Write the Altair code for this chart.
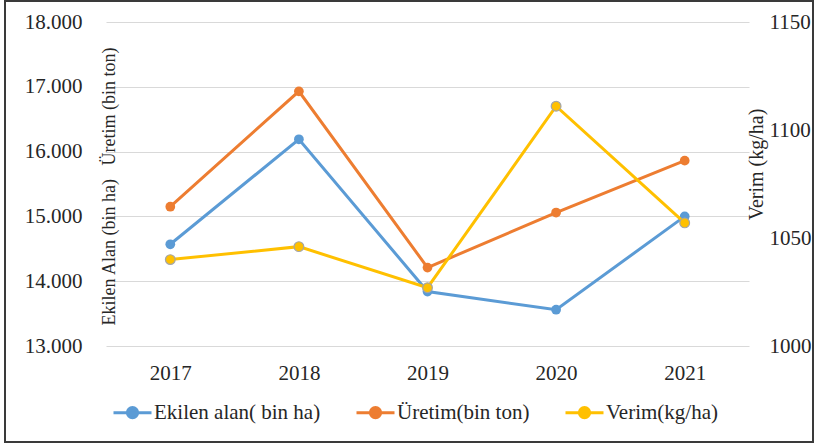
import altair as alt
import pandas as pd

# Yearly values
years = ["2017", "2018", "2019", "2020", "2021"]
ekilen_alan = [14570, 16190, 13840, 13560, 15000]   # bin ha
uretim = [15150, 16930, 14210, 15060, 15860]        # bin ton
verim = [1040, 1046, 1027, 1111, 1057]              # kg/ha

series_names = ["Ekilen alan( bin ha)", "Üretim(bin ton)", "Verim(kg/ha)"]
series_colors = ["#5B9BD5", "#ED7D31", "#FFC000"]

left_ticks = [13000, 14000, 15000, 16000, 17000, 18000]
right_ticks = [1000, 1050, 1100, 1150]

FONT = "'Liberation Serif', 'Times New Roman', 'DejaVu Serif', serif"
TEXT = "#262626"

left_df = pd.DataFrame({
    "Yıl": years * 2,
    "Seri": [series_names[0]] * len(years) + [series_names[1]] * len(years),
    "Değer": ekilen_alan + uretim,
})
right_df = pd.DataFrame({
    "Yıl": years,
    "Seri": [series_names[2]] * len(years),
    "Değer": verim,
})

color_scale = alt.Scale(domain=series_names, range=series_colors)

# line + marker legend glyph (unit path scaled by symbolSize)
legend_glyph = (
    "M -1 0 L 1 0 "
    "M 0.27 0 A 0.27 0.27 0 1 1 -0.27 0 A 0.27 0.27 0 1 1 0.27 0 Z"
)

legend = alt.Legend(
    title=None,
    orient="none",
    direction="horizontal",
    legendX=6,
    legendY=370,
    symbolType=legend_glyph,
    symbolSize=1444,
    symbolStrokeWidth=3,
    labelFont=FONT,
    labelFontSize=21,
    labelColor=TEXT,
    labelLimit=400,
    labelOffset=1,
    columnPadding=29,
)

x_enc = alt.X(
    "Yıl:O",
    title=None,
    axis=alt.Axis(
        labelAngle=0, ticks=False, domain=False, labelPadding=16,
        labelFont=FONT, labelFontSize=21, labelColor=TEXT,
    ),
)

y_left = alt.Y(
    "Değer:Q",
    scale=alt.Scale(domain=[13000, 18000], nice=False, zero=False),
    axis=alt.Axis(
        orient="left",
        values=left_ticks,
        labelExpr="replace(format(datum.value, ',d'), ',', '.')",
        ticks=False, domain=False, labelPadding=24,
        labelFont=FONT, labelFontSize=21, labelColor=TEXT,
        grid=True, gridColor="#d9d9d9", gridWidth=1,
        title="Ekilen Alan (bin ha)\u00a0\u00a0\u00a0Üretim (bin ton)",
        titleFont=FONT, titleFontSize=18, titleFontWeight="normal", titleColor=TEXT,
        titleAngle=270, titleX=8, titleY=164, titleAlign="center",
        titleBaseline="alphabetic",
    ),
)

y_right = alt.Y(
    "Değer:Q",
    scale=alt.Scale(domain=[1000, 1150], nice=False, zero=False),
    axis=alt.Axis(
        orient="right",
        values=right_ticks,
        format="d",
        ticks=False, domain=False, labelPadding=20, grid=False,
        labelFont=FONT, labelFontSize=21, labelColor=TEXT,
        title="Verim (kg/ha)",
        titleFont=FONT, titleFontSize=20, titleFontWeight="normal", titleColor=TEXT,
        titleAngle=270, titleX=13, titleY=142, titleAlign="center",
        titleBaseline="alphabetic",
    ),
)

left_base = alt.Chart(left_df).encode(x=x_enc, y=y_left)
left_line = left_base.mark_line(strokeWidth=3).encode(
    color=alt.Color("Seri:N", scale=color_scale, sort=series_names, legend=legend)
)
left_pts = left_base.mark_circle(size=95, opacity=1).encode(
    color=alt.Color("Seri:N", scale=color_scale, sort=series_names)
)

right_base = alt.Chart(right_df).encode(x=x_enc, y=y_right)
right_line = right_base.mark_line(strokeWidth=3).encode(
    color=alt.Color("Seri:N", scale=color_scale, legend=None)
)
right_pts = right_base.mark_circle(
    size=95, opacity=1, stroke="#a5a5a5", strokeWidth=1.2
).encode(color=alt.Color("Seri:N", scale=color_scale, legend=None))

# outer border around the whole figure
frame = alt.Chart(alt.Data(values=[{}])).mark_rect(
    fill=None, stroke="#3a3a3a", strokeWidth=2
).encode(
    x=alt.value(-101), x2=alt.value(707),
    y=alt.value(-21), y2=alt.value(420),
)

chart = (
    alt.layer(
        frame,
        alt.layer(left_line, left_pts),
        alt.layer(right_line, right_pts),
    )
    .resolve_scale(y="independent")
    .properties(
        width=643,
        height=324,
        autosize=alt.AutoSizeParams(type="none"),
        padding={"left": 106, "top": 22, "right": 65, "bottom": 98},
        background="white",
    )
    .configure(font=FONT)
    .configure_view(stroke=None)
)

chart.save("out.html", embed_options={"renderer": "svg", "actions": False})
